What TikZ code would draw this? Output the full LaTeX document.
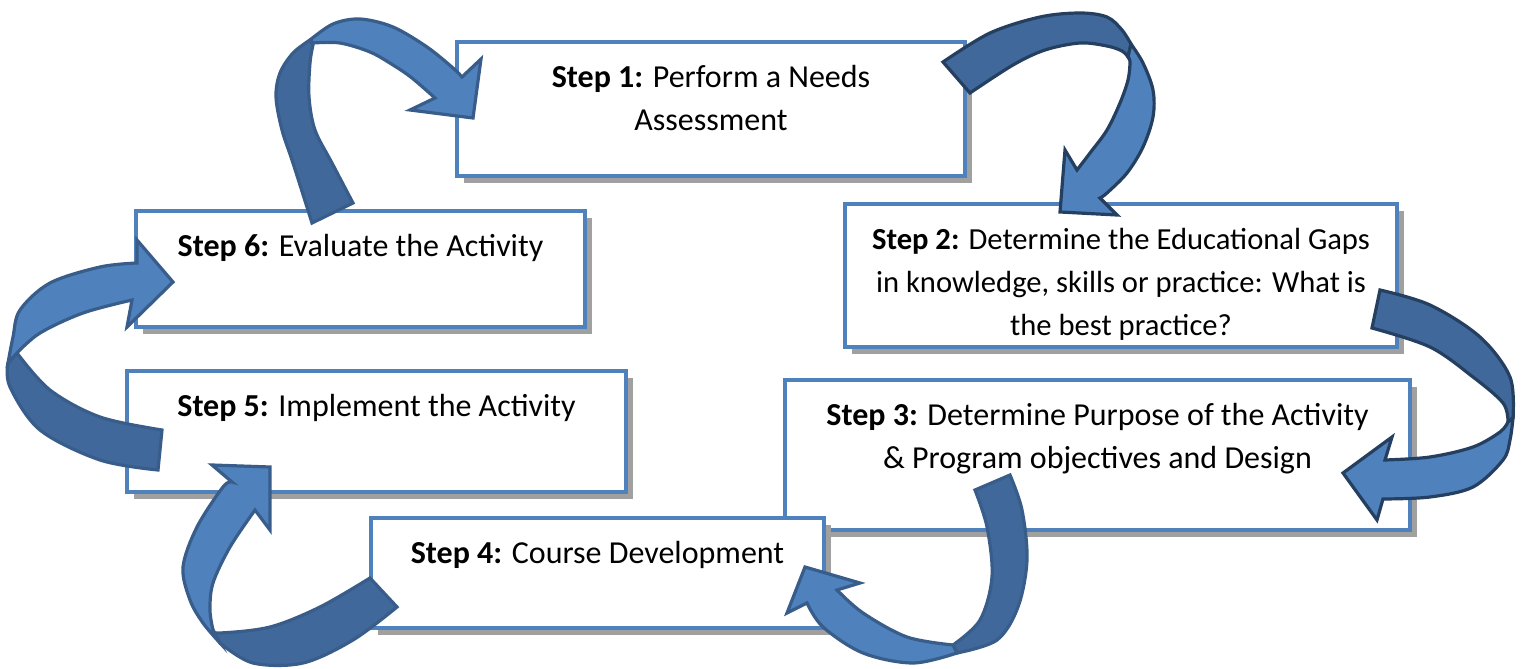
\documentclass[tikz,border=0pt]{standalone}
\usepackage{fontspec}
\setmainfont{Carlito}
\usetikzlibrary{shadows}
\definecolor{boxblue}{HTML}{4F81BD}
\definecolor{shadowgrey}{HTML}{A0A0A0}
\definecolor{arrowlight}{HTML}{4F81BD}
\definecolor{arrowdark}{HTML}{41689A}
\definecolor{edgemid}{HTML}{385D8A}
\definecolor{edgedark}{HTML}{243F60}
\newcommand{\boxtext}[4][16pt]{\parbox[c][#3][t]{#2}{\fontsize{#1}{21.5pt}\selectfont\centering\rule{0pt}{22.5pt}#4}}
\begin{document}
\begin{tikzpicture}[x=0.5pt,y=-0.5pt,
  stepbox/.style={draw=boxblue, line width=2pt, fill=white, inner sep=0pt, outer sep=0pt,
    drop shadow={shadow xshift=3.5pt, shadow yshift=-3.5pt, fill=shadowgrey, opacity=1}},
  lightpart/.style={fill=arrowlight, draw=#1, line width=1.6pt, line join=miter},
  darkpart/.style={fill=arrowdark, draw=#1, line width=1.6pt, line join=miter},
  smoothp/.style={smooth, tension=0.55}]
\useasboundingbox (0,0) rectangle (1528,669);

% boxes
\node[stepbox] (s1) at (711,109) {\boxtext{254pt}{67pt}{\textbf{Step 1:} Perform a Needs\\Assessment}};
\node[stepbox] (s2) at (1121,275.5) {\boxtext[15.3pt]{276pt}{71.5pt}{\textbf{Step 2:} Determine the Educational Gaps\\in knowledge, skills or practice: What is\\the best practice?}};
\node[stepbox] (s3) at (1097.5,455) {\boxtext{312.5pt}{75pt}{\textbf{Step 3:} Determine Purpose of the Activity\\\&{} Program objectives and Design}};
\node[stepbox] (s4) at (597.5,573) {\boxtext{226.5pt}{55pt}{\textbf{Step 4:} Course Development}};
\node[stepbox] (s5) at (376.5,431.5) {\boxtext{249.5pt}{60.5pt}{\textbf{Step 5:} Implement the Activity}};
\node[stepbox] (s6) at (360.5,269) {\boxtext{224.5pt}{58pt}{\textbf{Step 6:} Evaluate the Activity}};

% arrow 6 -> 1
\path[darkpart=edgemid] plot[smoothp] coordinates {(312,223) (293,163) (282,130) (276,97) (280,73) (293,53) (310,40)}
  -- plot[smoothp] coordinates {(313,45) (310,63) (309,97) (315,130) (332,163) (353,203)} -- cycle;
\path[lightpart=edgemid] plot[smoothp] coordinates {(310,40) (333,24) (360,19) (393,27) (427,47) (453,68) (462,77)}
  -- (481,59) -- (473,118) -- (410,110)
  -- plot[smoothp] coordinates {(435,98) (412,78) (393,65) (370,52) (340,43) (313,43)} -- cycle;

% arrow 1 -> 2
\path[darkpart=edgedark] plot[smoothp] coordinates {(943,62) (990,33) (1040,17) (1080,13) (1107,17) (1122,30) (1131,44)}
  -- plot[smoothp] coordinates {(1128,57) (1122,51) (1107,46) (1080,43) (1045,50) (1013,65) (970,93)} -- cycle;
\path[lightpart=edgedark] plot[smoothp] coordinates {(1131,44) (1143,63) (1153,90) (1153,117) (1143,147) (1127,173) (1107,193) (1100,198)}
  -- (1117,215) -- (1060,212) -- (1065,150)
  -- plot[smoothp] coordinates {(1077,170) (1090,153) (1107,130) (1120,103) (1128,80) (1130,62) (1128,57)} -- cycle;

% arrow 2 -> 3
\path[darkpart=edgedark] plot[smoothp] coordinates {(1380,290) (1430,305) (1480,337) (1510,377) (1513,418)}
  -- plot[smoothp] coordinates {(1508,422) (1503,403) (1473,377) (1430,347) (1372,328)} -- cycle;
\path[lightpart=edgedark] plot[smoothp] coordinates {(1513,418) (1510,440) (1503,460) (1473,487) (1430,497) (1383,499)}
  -- (1377,520) -- (1343,473) -- (1392,437)
  -- plot[smoothp] coordinates {(1385,460) (1430,457) (1473,447) (1500,432) (1508,422)} -- cycle;

% arrow 3 -> 4
\path[darkpart=edgemid] plot[smoothp] coordinates {(1010,475) (1022,510) (1027,560) (1018,607) (997,640) (957,653)}
  -- plot[smoothp] coordinates {(953,645) (980,620) (992,577) (987,527) (975,490)} -- cycle;
\path[lightpart=edgemid] plot[smoothp] coordinates {(957,653) (913,663) (863,653) (823,627) (807,603)}
  -- (787,613) -- (805,567) -- (860,583)
  -- plot[smoothp] coordinates {(837,590) (863,613) (907,637) (953,645)} -- cycle;

% arrow 4 -> 5
\path[darkpart=edgemid] plot[smoothp] coordinates {(397,607) (353,640) (303,663) (253,663) (220,643)}
  -- plot[smoothp] coordinates {(213,630) (220,633) (270,627) (320,607) (370,578)} -- cycle;
\path[lightpart=edgemid] plot[smoothp] coordinates {(220,643) (203,623) (190,600) (183,567) (197,527) (223,487) (232,482)}
  -- (212,465) -- (270,467) -- (270,530)
  -- plot[smoothp] coordinates {(255,510) (230,547) (213,583) (210,610) (213,630)} -- cycle;

% arrow 5 -> 6
\path[darkpart=edgemid] plot[smoothp] coordinates {(158,470) (100,460) (40,430) (10,387) (8,363)}
  -- plot[smoothp] coordinates {(17,353) (50,390) (100,417) (162,430)} -- cycle;
\path[lightpart=edgemid] plot[smoothp] coordinates {(8,363) (13,337) (20,310) (50,283) (100,267) (137,263)}
  -- (137,240) -- (173,282) -- (127,327)
  -- plot[smoothp] coordinates {(132,300) (83,313) (40,333) (17,353)} -- cycle;
\end{tikzpicture}
\end{document}
